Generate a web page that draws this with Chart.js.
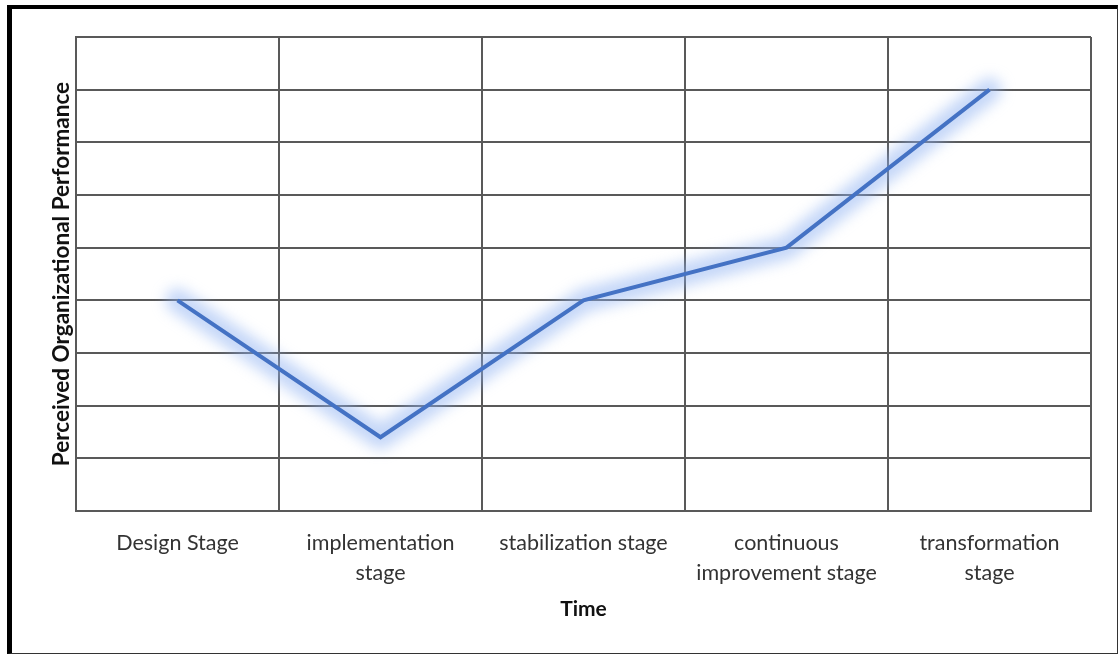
<!DOCTYPE html>
<html>
<head>
<meta charset="utf-8">
<script src="https://cdn.jsdelivr.net/npm/chart.js@4.4.1/dist/chart.umd.min.js"></script>
<style>
  html, body { margin: 0; padding: 0; background: #fff; }
  #wrap { position: relative; width: 1119px; height: 655px; overflow: hidden; }
  #frame {
    position: absolute; left: 7px; top: 5px; right: 1px; bottom: 1px;
    border-left: 5px solid #000; border-top: 4px solid #000;
    border-right: 1px solid #333; border-bottom: 1px solid #333;
    box-sizing: border-box; pointer-events: none;
  }
  canvas { position: absolute; left: 0; top: 0; }
</style>
</head>
<body>
<div id="wrap">
  <canvas id="chart" width="1119" height="655"></canvas>
  <div id="frame"></div>
</div>
<script>
// Stages along the time axis
const stages = [
  'Design Stage',
  ['implementation', 'stage'],
  'stabilization stage',
  ['continuous', 'improvement stage'],
  ['transformation', 'stage']
];
// Perceived performance level at each stage
const performance = [4, 1.4, 4, 5, 8];
const yMin = 0;
const yMax = 9;

const FONT = 'Lato, "Open Sans", sans-serif';

// Soft blue glow under the line, traced through the points the line controller placed
const glow = {
  id: 'glow',
  beforeDatasetDraw(chart, args) {
    const pts = args.meta.data;
    if (!pts.length) return;
    const ctx = chart.ctx;
    ctx.save();
    ctx.filter = 'blur(7px)';
    ctx.strokeStyle = 'rgba(140,175,242,0.5)';
    ctx.lineWidth = 24;
    ctx.lineJoin = 'round';
    ctx.lineCap = 'round';
    ctx.beginPath();
    pts.forEach((p, i) => (i ? ctx.lineTo(p.x, p.y) : ctx.moveTo(p.x, p.y)));
    ctx.stroke();
    ctx.restore();
  }
};

new Chart(document.getElementById('chart'), {
  type: 'line',
  data: {
    labels: stages,
    datasets: [{
      data: performance,
      borderColor: '#4472C4',
      borderWidth: 4,
      pointRadius: 0,
      tension: 0,
      borderJoinStyle: 'miter'
    }]
  },
  options: {
    responsive: false,
    animation: false,
    events: [],
    layout: { padding: { left: 48, right: 28, top: 37, bottom: 0 } },
    plugins: { legend: { display: false }, tooltip: { enabled: false } },
    scales: {
      x: {
        offset: true,
        grid: { offset: true, color: '#595959', lineWidth: 2, drawTicks: false },
        border: { color: '#595959', width: 2 },
        ticks: {
          color: '#333',
          font: { family: FONT, size: 21.5, lineHeight: 1.4 },
          padding: 17,
          maxRotation: 0,
          autoSkip: false
        },
        title: {
          display: true,
          text: 'Time',
          color: '#111',
          font: { family: FONT, size: 21, weight: 'bold' },
          padding: { top: 0, bottom: 33 }
        },
        afterFit(scale) { scale.height = 144; }
      },
      y: {
        min: yMin,
        max: yMax,
        grid: { color: '#595959', lineWidth: 2, drawTicks: false },
        border: { color: '#595959', width: 2 },
        ticks: { stepSize: 1, display: false },
        title: {
          display: true,
          text: 'Perceived Organizational Performance',
          color: '#111',
          font: { family: FONT, size: 22.5, weight: 'bold' },
          padding: 0
        },
        afterFit(scale) { scale.width = 28; }
      }
    }
  },
  plugins: [glow]
});
</script>
</body>
</html>
